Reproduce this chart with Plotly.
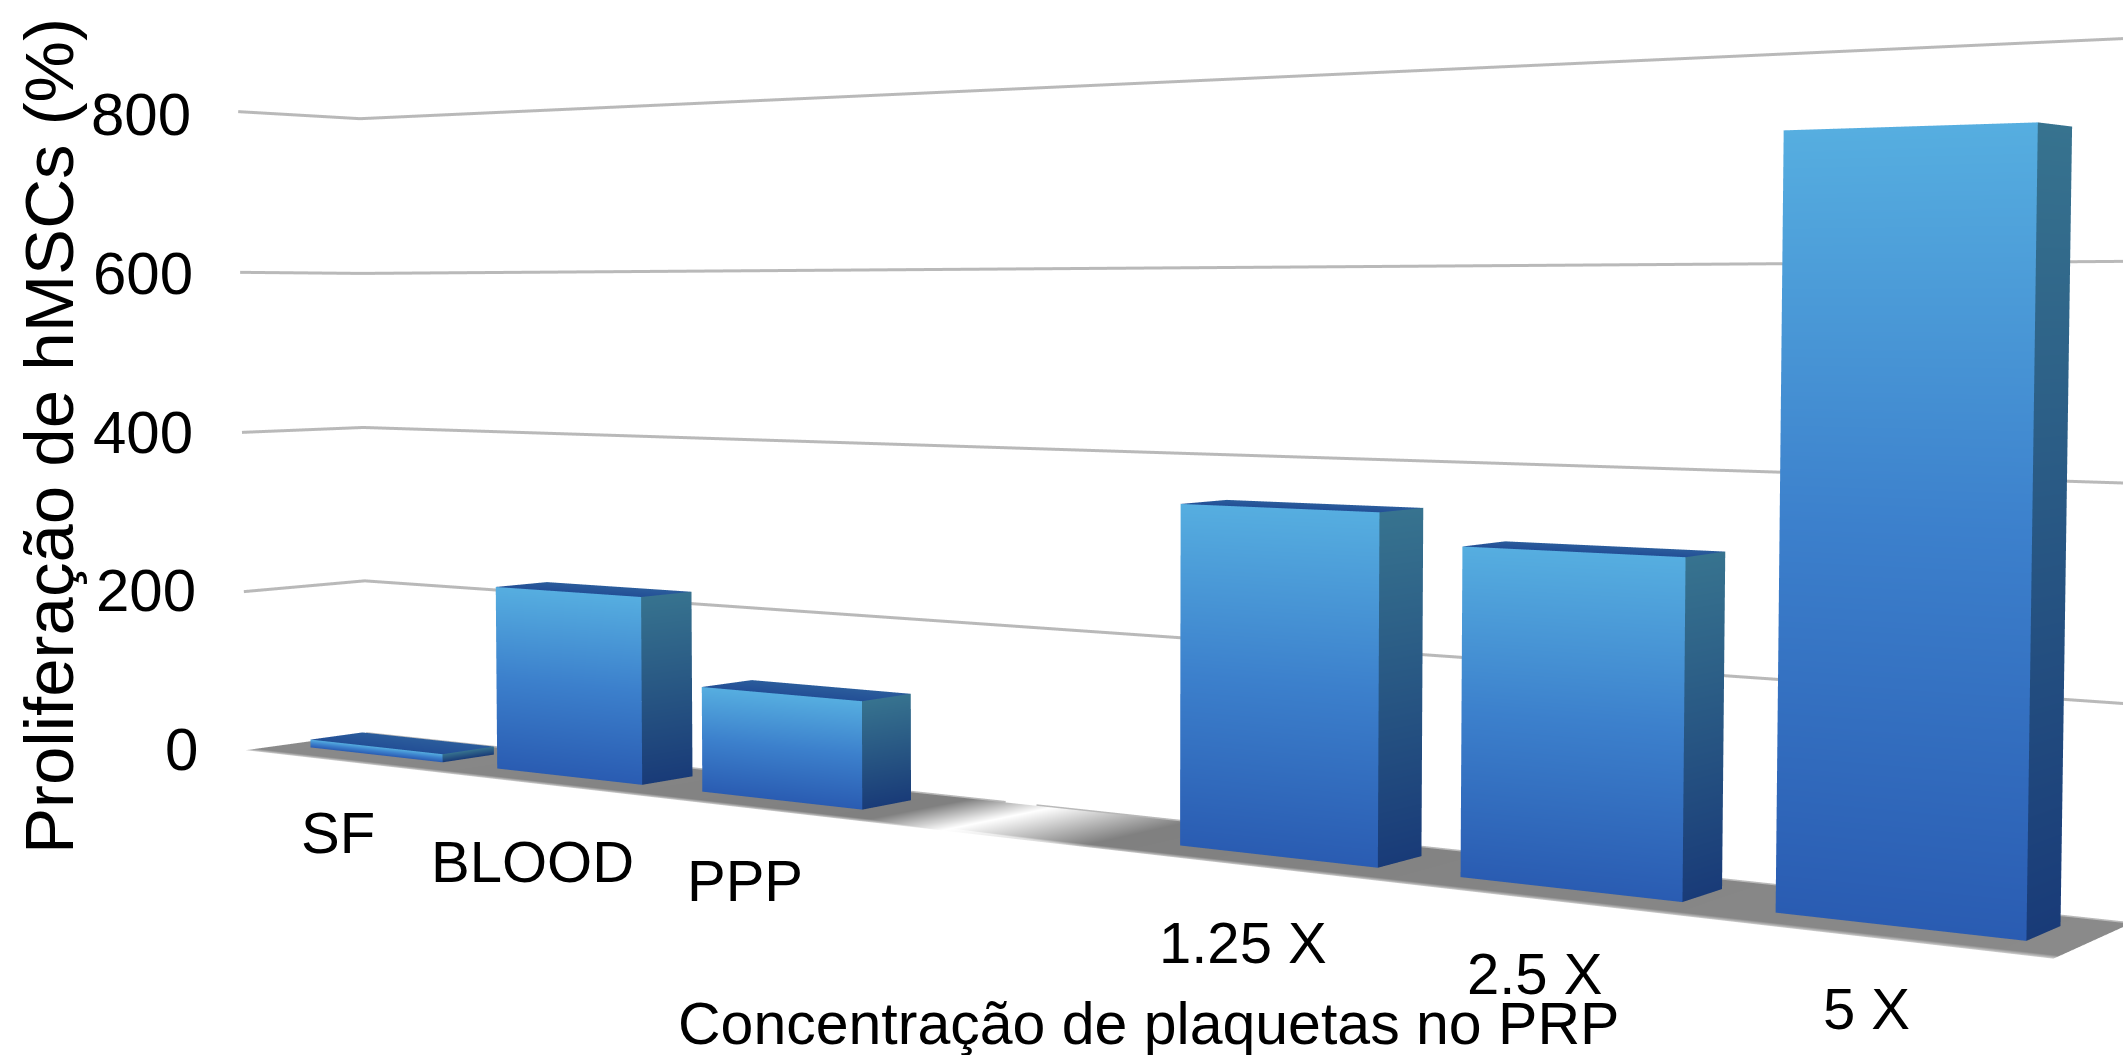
import plotly.graph_objects as go

W, H = 2123, 1055

# ---- data ----
categories = ["SF", "BLOOD", "PPP", "", "1.25 X", "2.5 X", "5 X"]
values = [10, 220, 121, None, 355, 325, 720]
grid_values = [200, 400, 600, 800]
tick_labels = ["800", "600", "400", "200", "0"]
x_title = "Concentração de plaquetas no PRP"
y_title = "Proliferação de hMSCs (%)"

# ---- chart box geometry (oblique box seen from a camera on the +x side) ----
SLOT = 0.0872
BAR_START = 0.14
BAR_W = 0.0625 / SLOT
FLOOR_LEN = 7 * SLOT
FLOOR_DEPTH = 0.074
WALL_DEPTH = 0.074
FLOOR_EDGE = 0.068
BAR_FRONT = 0.05
BAR_BACK = 0.018
V_SCALE = 0.0012
V_LEAN = 2.2e-5
EYE = 2.0


def place(slot, d, v):
    u = slot * SLOT
    return (-1.092 + 3.70 * u - 1.916 * d,
            -u - d - V_LEAN * v,
            -0.3236 - 0.178 * u - 0.178 * d + V_SCALE * v)


def lighten(hex_col, f):
    rgb = [int(hex_col[i:i + 2], 16) for i in (1, 3, 5)]
    return "#%02x%02x%02x" % tuple(round(c + (255 - c) * f) for c in rgb)


class Mesh:
    def __init__(self):
        self.x, self.y, self.z, self.c, self.i, self.j, self.k = [], [], [], [], [], [], []

    def vert(self, p, col):
        self.x.append(p[0]); self.y.append(p[1]); self.z.append(p[2]); self.c.append(col)
        return len(self.x) - 1

    def quad(self, a, b, c, d):
        self.i += [a, a]; self.j += [b, c]; self.k += [c, d]

    def strip(self, corner, stops, far_light=0.0):
        """corner(f, t) -> point; stops: [(t,color)] along t; two columns f=0,1."""
        prev = None
        for t, col in stops:
            pair = (self.vert(corner(0, t), col), self.vert(corner(1, t), lighten(col, far_light)))
            if prev:
                self.quad(prev[0], prev[1], pair[1], pair[0])
            prev = pair

    def trace(self):
        return go.Mesh3d(x=self.x, y=self.y, z=self.z, i=self.i, j=self.j, k=self.k,
                         vertexcolor=self.c, flatshading=False, hoverinfo="skip", showscale=False,
                         lighting=dict(ambient=1, diffuse=0, specular=0, roughness=1, fresnel=0))


FRONT = [(0, "#2a5cb2"), (0.5, "#3c80cc"), (1, "#56aee0")]
SIDE = [(0, "#193b78"), (1, "#37738f")]
TOP = [(0, "#2b5d9c"), (1, "#234f96")]

m = Mesh()
# floor
fade = [(0, "#8a8a8a"), (0.262 / FLOOR_LEN, "#808080"), (0.292 / FLOOR_LEN, "#ffffff"),
        (0.34 / FLOOR_LEN, "#808080"), (1, "#8a8a8a")]
m.strip(lambda f, t: place(t * 7, f * FLOOR_EDGE, 0), fade)
m.strip(lambda f, t: place(t * 7, FLOOR_EDGE + f * (FLOOR_DEPTH - FLOOR_EDGE), 0), fade, far_light=0.6)

for idx, val in enumerate(values):
    if val is None:
        continue
    s0 = idx + BAR_START
    s1 = s0 + BAR_W
    m.strip(lambda f, t: place(s0 + f * BAR_W, BAR_FRONT, val * t), FRONT)
    m.strip(lambda f, t: place(s1, BAR_FRONT + f * (BAR_BACK - BAR_FRONT), val * t), SIDE)
    m.strip(lambda f, t: place(s0 + f * BAR_W, BAR_BACK + t * (BAR_FRONT - BAR_BACK), val), TOP)

traces = [m.trace()]

# gridlines: left wall + back wall
for g in [0] + grid_values:
    pts = [place(0, WALL_DEPTH, g), place(0, 0, g), place(7, 0, g)]
    if g == 0:
        pts = [place(0, 0, g), place(3.15, 0, g), None, place(3.28, 0, g), place(7, 0, g)]
    xs = [p[0] if p else None for p in pts]
    ys = [p[1] if p else None for p in pts]
    zs = [p[2] if p else None for p in pts]
    traces.append(go.Scatter3d(x=xs, y=ys, z=zs, mode="lines", hoverinfo="skip", showlegend=False,
                               line=dict(color="#b9b9b9", width=6)))

fig = go.Figure(traces)

FONT = "Liberation Sans"
def note(text, px, py, size, anchor="center", angle=0):
    fig.add_annotation(text=text, x=px / W, y=1 - py / H, xref="paper", yref="paper",
                       xanchor=anchor, yanchor="middle", showarrow=False, textangle=angle,
                       font=dict(family=FONT, size=size, color="#000000"))

tick_pos = [(193, 114), (195, 273), (195, 432), (198, 590), (200, 749)]
for lab, (px, py) in zip(tick_labels, tick_pos):
    note(lab, px, py, 60, "right")

cat_pos = [(338, 832), (532, 861), (745, 880), None, (1243, 942), (1534, 973), (1866, 1008)]
for lab, pos in zip(categories, cat_pos):
    if pos:
        note(lab, pos[0], pos[1], 58)

note(x_title, 1148, 1024, 59)
note(y_title, 49, 436, 69, angle=-90)

hidden = dict(visible=False, range=[-2, 2], autorange=False)
fig.update_layout(
    width=W, height=H, margin=dict(l=0, r=0, t=0, b=0), showlegend=False,
    paper_bgcolor="white", plot_bgcolor="white",
    scene=dict(
        domain=dict(x=[0, 1], y=[0, 1]),
        xaxis=hidden, yaxis=hidden, zaxis=hidden,
        aspectmode="manual", aspectratio=dict(x=4, y=4, z=4),
        bgcolor="white",
        camera=dict(eye=dict(x=0, y=-EYE, z=0), center=dict(x=0, y=0, z=0), up=dict(x=0, y=0, z=1),
                    projection=dict(type="perspective")),
    ),
)
fig.write_html("out.html", config=dict(displayModeBar=False),
               post_script="document.body.style.margin='0';document.body.style.overflow='hidden';")
